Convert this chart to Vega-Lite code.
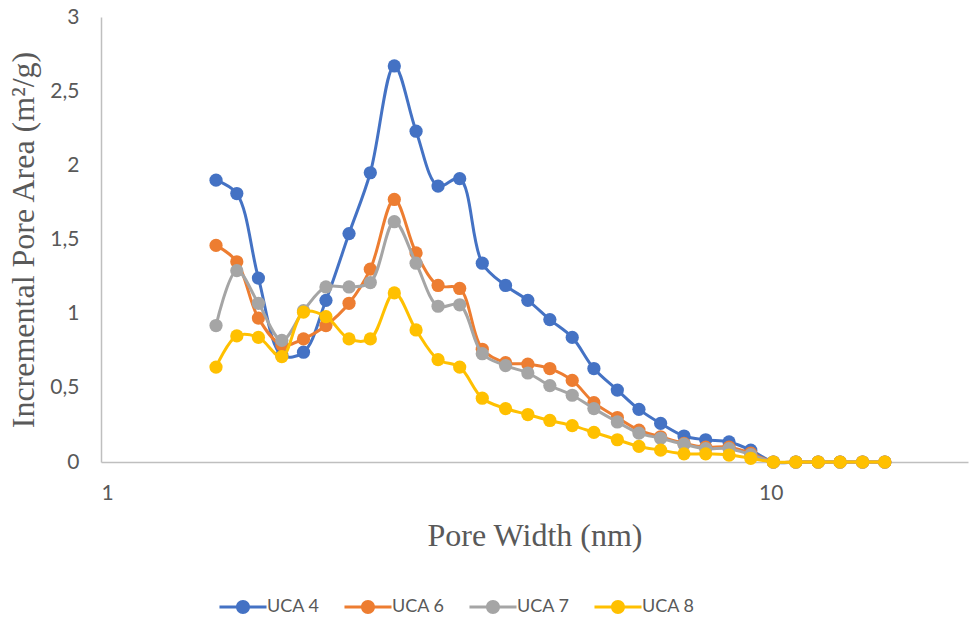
{
  "$schema": "https://vega.github.io/schema/vega-lite/v6.json",
  "autosize": {"type": "none"},
  "padding": {"left": 101, "top": 17, "right": 1, "bottom": 162},
  "background": "white",
  "width": 867,
  "height": 445,
  "data": {
    "values": [
      {"w": 1.485, "UCA 4": 1.90, "UCA 6": 1.46, "UCA 7": 0.92, "UCA 8": 0.64},
      {"w": 1.595, "UCA 4": 1.81, "UCA 6": 1.35, "UCA 7": 1.29, "UCA 8": 0.85},
      {"w": 1.718, "UCA 4": 1.24, "UCA 6": 0.97, "UCA 7": 1.07, "UCA 8": 0.84},
      {"w": 1.862, "UCA 4": 0.72, "UCA 6": 0.79, "UCA 7": 0.82, "UCA 8": 0.71},
      {"w": 2.006, "UCA 4": 0.74, "UCA 6": 0.83, "UCA 7": 1.02, "UCA 8": 1.01},
      {"w": 2.167, "UCA 4": 1.09, "UCA 6": 0.92, "UCA 7": 1.18, "UCA 8": 0.98},
      {"w": 2.346, "UCA 4": 1.54, "UCA 6": 1.07, "UCA 7": 1.18, "UCA 8": 0.83},
      {"w": 2.524, "UCA 4": 1.95, "UCA 6": 1.30, "UCA 7": 1.21, "UCA 8": 0.83},
      {"w": 2.741, "UCA 4": 2.67, "UCA 6": 1.77, "UCA 7": 1.62, "UCA 8": 1.14},
      {"w": 2.954, "UCA 4": 2.23, "UCA 6": 1.41, "UCA 7": 1.34, "UCA 8": 0.89},
      {"w": 3.186, "UCA 4": 1.86, "UCA 6": 1.19, "UCA 7": 1.05, "UCA 8": 0.69},
      {"w": 3.432, "UCA 4": 1.91, "UCA 6": 1.17, "UCA 7": 1.06, "UCA 8": 0.64},
      {"w": 3.709, "UCA 4": 1.34, "UCA 6": 0.76, "UCA 7": 0.73, "UCA 8": 0.43},
      {"w": 4.018, "UCA 4": 1.19, "UCA 6": 0.67, "UCA 7": 0.65, "UCA 8": 0.36},
      {"w": 4.338, "UCA 4": 1.09, "UCA 6": 0.66, "UCA 7": 0.60, "UCA 8": 0.32},
      {"w": 4.679, "UCA 4": 0.96, "UCA 6": 0.63, "UCA 7": 0.515, "UCA 8": 0.28},
      {"w": 5.053, "UCA 4": 0.84, "UCA 6": 0.55, "UCA 7": 0.45, "UCA 8": 0.245},
      {"w": 5.444, "UCA 4": 0.63, "UCA 6": 0.40, "UCA 7": 0.36, "UCA 8": 0.20},
      {"w": 5.901, "UCA 4": 0.485, "UCA 6": 0.30, "UCA 7": 0.27, "UCA 8": 0.15},
      {"w": 6.356, "UCA 4": 0.355, "UCA 6": 0.215, "UCA 7": 0.195, "UCA 8": 0.105},
      {"w": 6.848, "UCA 4": 0.26, "UCA 6": 0.17, "UCA 7": 0.16, "UCA 8": 0.08},
      {"w": 7.421, "UCA 4": 0.175, "UCA 6": 0.125, "UCA 7": 0.12, "UCA 8": 0.055},
      {"w": 7.995, "UCA 4": 0.15, "UCA 6": 0.10, "UCA 7": 0.09, "UCA 8": 0.055},
      {"w": 8.664, "UCA 4": 0.135, "UCA 6": 0.10, "UCA 7": 0.09, "UCA 8": 0.047},
      {"w": 9.335, "UCA 4": 0.08, "UCA 6": 0.06, "UCA 7": 0.05, "UCA 8": 0.025},
      {"w": 10.09, "UCA 4": 0, "UCA 6": 0, "UCA 7": 0, "UCA 8": 0},
      {"w": 10.90, "UCA 4": 0, "UCA 6": 0, "UCA 7": 0, "UCA 8": 0},
      {"w": 11.77, "UCA 4": 0, "UCA 6": 0, "UCA 7": 0, "UCA 8": 0},
      {"w": 12.69, "UCA 4": 0, "UCA 6": 0, "UCA 7": 0, "UCA 8": 0},
      {"w": 13.71, "UCA 4": 0, "UCA 6": 0, "UCA 7": 0, "UCA 8": 0},
      {"w": 14.80, "UCA 4": 0, "UCA 6": 0, "UCA 7": 0, "UCA 8": 0}
    ]
  },
  "transform": [
    {"fold": ["UCA 4", "UCA 6", "UCA 7", "UCA 8"], "as": ["sample", "area"]}
  ],
  "encoding": {
    "x": {
      "field": "w",
      "type": "quantitative",
      "scale": {"type": "log", "domain": [1, 19.7], "nice": false},
      "axis": {"values": [1, 10], "format": "d", "title": "Pore Width (nm)", "labelPadding": 20, "titlePadding": 17}
    },
    "y": {
      "field": "area",
      "type": "quantitative",
      "scale": {"domain": [0, 3], "nice": false},
      "axis": {
        "values": [0, 0.5, 1, 1.5, 2, 2.5, 3],
        "labelExpr": "replace(toString(datum.value), '.', ',')",
        "title": "Incremental Pore Area (m²/g)",
        "labelPadding": 22,
        "titlePadding": 9
      }
    },
    "color": {
      "field": "sample",
      "type": "nominal",
      "scale": {"domain": ["UCA 4", "UCA 6", "UCA 7", "UCA 8"], "range": ["#4472C4", "#ED7D31", "#A5A5A5", "#FFC000"]},
      "legend": {
        "title": null,
        "orient": "none",
        "direction": "horizontal",
        "legendX": 133,
        "legendY": 581,
        "padding": 0,
        "columnPadding": 24,
        "labelOffset": 15,
        "labelFont": "Lato",
        "labelFontSize": 18,
        "labelColor": "#595959",
        "symbolSize": 196,
        "symbolType": "M -3.36 -0.21 L 3.36 -0.21 L 3.36 0.21 L -3.36 0.21 Z M 1 0 A 1 1 0 1 1 -1 0 A 1 1 0 1 1 1 0 Z",
        "symbolStrokeWidth": 0,
        "encode": {
          "symbols": {
            "update": {
              "fill": {"scale": "color", "field": "value"},
              "stroke": {"value": "transparent"},
              "opacity": {"value": 1}
            }
          }
        }
      }
    }
  },
  "layer": [
    {"transform": [{"filter": "datum.sample === 'UCA 4'"}], "mark": {"type": "line", "interpolate": "catmull-rom", "strokeWidth": 3}},
    {"transform": [{"filter": "datum.sample === 'UCA 4'"}], "mark": {"type": "point", "filled": true, "size": 175, "opacity": 1}},
    {"transform": [{"filter": "datum.sample === 'UCA 6'"}], "mark": {"type": "line", "interpolate": "catmull-rom", "strokeWidth": 3}},
    {"transform": [{"filter": "datum.sample === 'UCA 6'"}], "mark": {"type": "point", "filled": true, "size": 175, "opacity": 1}},
    {"transform": [{"filter": "datum.sample === 'UCA 7'"}], "mark": {"type": "line", "interpolate": "catmull-rom", "strokeWidth": 3}},
    {"transform": [{"filter": "datum.sample === 'UCA 7'"}], "mark": {"type": "point", "filled": true, "size": 175, "opacity": 1}},
    {"transform": [{"filter": "datum.sample === 'UCA 8'"}], "mark": {"type": "line", "interpolate": "catmull-rom", "strokeWidth": 3}},
    {"transform": [{"filter": "datum.sample === 'UCA 8'"}], "mark": {"type": "point", "filled": true, "size": 175, "opacity": 1}}
  ],
  "config": {
    "view": {"stroke": null},
    "axis": {
      "grid": false,
      "ticks": false,
      "domainColor": "#BFBFBF",
      "domainWidth": 1.5,
      "labelFont": "Lato",
      "labelFontSize": 21,
      "labelColor": "#595959",
      "titleFont": "Liberation Serif",
      "titleFontSize": 32,
      "titleFontWeight": "normal",
      "titleColor": "#595959"
    }
  }
}
